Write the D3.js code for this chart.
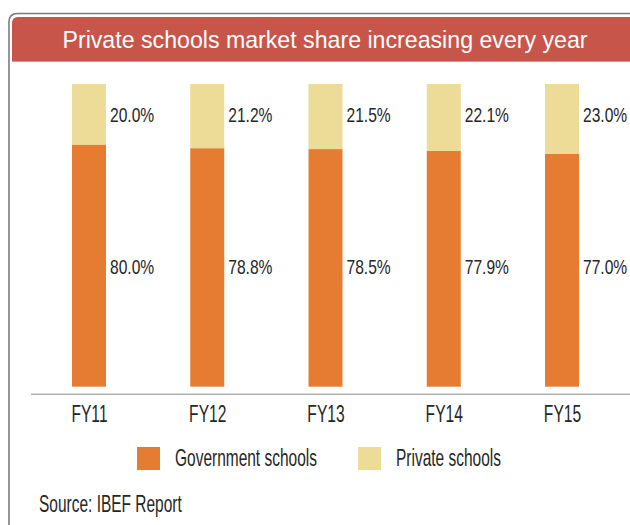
<!DOCTYPE html>
<html>
<head>
<meta charset="utf-8">
<script src="https://cdn.jsdelivr.net/npm/d3@7"></script>
<style>
  html, body { margin: 0; padding: 0; background: #fff; }
  svg { display: block; }
  text { font-family: "Liberation Sans", Arial, sans-serif; }
</style>
</head>
<body>
<svg id="chart" width="630" height="525"></svg>
<script>
const categories = ["FY11", "FY12", "FY13", "FY14", "FY15"];
const governmentShare = [80.0, 78.8, 78.5, 77.9, 77.0];
const privateShare = [20.0, 21.2, 21.5, 22.1, 23.0];
const seriesNames = ["Government schools", "Private schools"];
const seriesColors = ["#e57c32", "#ecdc98"];
const titleText = "Private schools market share increasing every year";
const sourceText = "Source: IBEF Report";

const svg = d3.select("#chart");
const textColor = "#262626";

// frame
svg.append("path")
  .attr("d", "M9,526 L9,22 Q9,13.5 17.5,13.5 L631,13.5")
  .attr("fill", "none").attr("stroke", "#7a7a7a").attr("stroke-width", 1.6);

// banner
svg.append("path")
  .attr("d", "M12,61.5 L12,23 Q12,17 18,17 L631,17 L631,61.5 Z")
  .attr("fill", "#c8554a");
svg.append("line")
  .attr("x1", 12).attr("x2", 631).attr("y1", 61.5).attr("y2", 61.5)
  .attr("stroke", "#e0958b").attr("stroke-width", 1.2);

function scaledText(parent, x, y, sx, str, size, anchor, color) {
  return parent.append("text")
    .attr("transform", `translate(${x},${y}) scale(${sx},1)`)
    .attr("text-anchor", anchor)
    .attr("font-size", size)
    .attr("fill", color)
    .text(str);
}

scaledText(svg, 325, 48, 0.965, titleText, 24, "middle", "#ffffff");

// scales
const x = d3.scalePoint().domain(categories).range([89, 562]);
const y = d3.scaleLinear().domain([0, 100]).range([386.7, 84]);
const barW = 34;

const rows = categories.map((c, i) => ({ cat: c, gov: governmentShare[i], priv: privateShare[i] }));
const stacked = d3.stack().keys(["gov", "priv"])(rows);

// label baselines: private labels sit near the bar tops, government labels at a common level
const labelBaseline = [y(0) - 112.5, y(100) + 38];

const g = svg.append("g");
stacked.forEach((layer, li) => {
  g.selectAll(null).data(layer).enter().append("rect")
    .attr("x", d => x(d.data.cat) - barW / 2)
    .attr("width", barW)
    .attr("y", d => y(d[1]))
    .attr("height", d => y(d[0]) - y(d[1]))
    .attr("fill", seriesColors[li]);
  layer.forEach(d => {
    const val = d[1] - d[0];
    scaledText(g, x(d.data.cat) + barW / 2 + 4, labelBaseline[li], 0.78, val.toFixed(1) + "%", 20, "start", textColor);
  });
});

// axis
const axisY = 394.3;
svg.append("line")
  .attr("x1", 31).attr("x2", 630).attr("y1", axisY).attr("y2", axisY)
  .attr("stroke", "#b0b0b0").attr("stroke-width", 1.5);
const axisG = svg.append("g")
  .attr("transform", `translate(0,${axisY})`)
  .call(d3.axisBottom(x).tickSize(0));
axisG.select(".domain").remove();
axisG.selectAll("text")
  .attr("y", 27.4).attr("dy", 0)
  .attr("transform", "scale(0.65,1)")
  .attr("font-size", 24)
  .attr("font-family", "Liberation Sans, Arial, sans-serif")
  .attr("fill", textColor);

// legend
const legendX = [137, 358];
seriesNames.forEach((name, i) => {
  svg.append("rect")
    .attr("x", legendX[i]).attr("y", 447).attr("width", 23).attr("height", 23)
    .attr("fill", seriesColors[i]);
  scaledText(svg, legendX[i] + 38, 465.5, 0.645, name, 24, "start", textColor);
});

// source
scaledText(svg, 39, 512, 0.645, sourceText, 24, "start", textColor);
</script>
</body>
</html>
